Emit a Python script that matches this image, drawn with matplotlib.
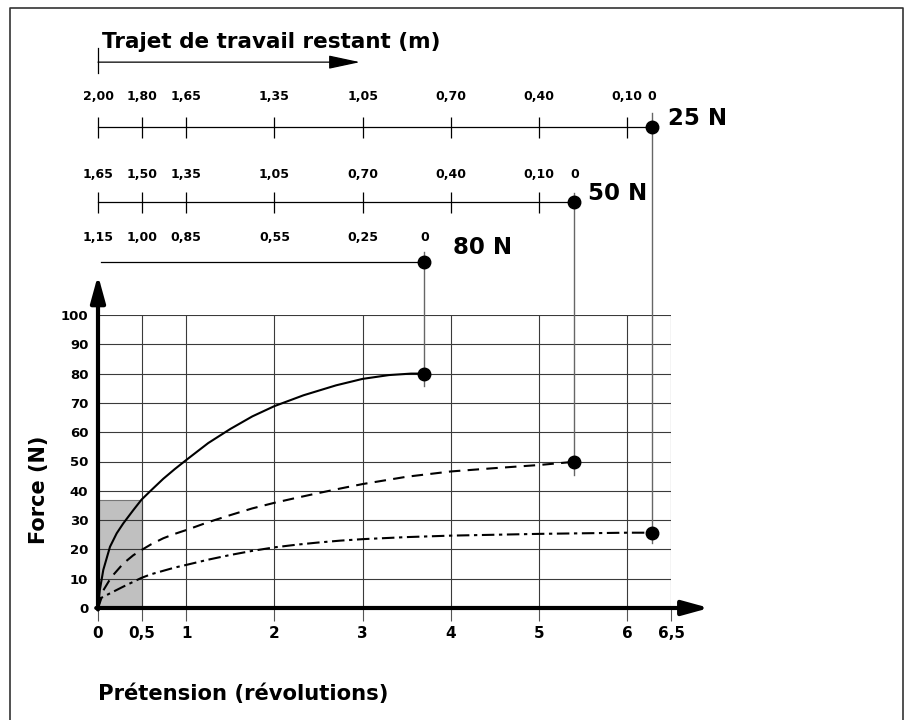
import matplotlib
matplotlib.use('Agg')
import matplotlib.pyplot as plt
from matplotlib.patches import Rectangle
from matplotlib.lines import Line2D

# curves: pretension (revolutions) -> force (N)
revs_80 = [0, 0.02, 0.06, 0.136, 0.212, 0.287, 0.4, 0.494, 0.6, 0.74, 0.87, 1.0, 1.25, 1.5, 1.75, 2.0,
           2.33, 2.7, 3.0, 3.3, 3.55, 3.70]
force_80 = [0, 6, 13, 20.9, 25.5, 28.9, 33.4, 37, 40.1, 44.1, 47.4, 50.5, 56.3, 61.1, 65.4, 68.9,
            72.6, 76.0, 78.2, 79.5, 80, 80]

revs_50 = [0, 0.04, 0.15, 0.287, 0.4, 0.494, 0.6, 0.74, 0.87, 1.0, 1.25, 1.5, 1.75, 2.0, 2.25, 2.48,
           2.75, 3.0, 3.5, 4.0, 4.48, 5.0, 5.40]
force_50 = [0, 5, 10.5, 15.2, 18.0, 19.8, 21.7, 23.8, 25.3, 26.6, 29.3, 31.7, 34.0, 35.9, 37.6, 39.1,
            40.8, 42.3, 44.8, 46.6, 47.7, 48.8, 49.9]

revs_25 = [0, 0.04, 0.136, 0.287, 0.494, 0.6, 0.74, 0.87, 1.0, 1.25, 1.5, 1.75, 2.0, 2.25, 2.48,
           2.75, 3.0, 3.5, 4.0, 5.0, 6.0, 6.28]
force_25 = [0, 3.5, 5.0, 7.3, 10.3, 11.5, 12.7, 13.8, 14.7, 16.5, 18.1, 19.5, 20.7, 21.6, 22.3,
            23.0, 23.5, 24.2, 24.7, 25.3, 25.7, 25.7]

# remaining working travel (m) scales above the chart
scale25_pos = [0, 0.5, 1, 2, 3, 4, 5, 6, 6.28]
scale25_lab = ["2,00", "1,80", "1,65", "1,35", "1,05", "0,70", "0,40", "0,10", "0"]
scale50_pos = [0, 0.5, 1, 2, 3, 4, 5, 5.40]
scale50_lab = ["1,65", "1,50", "1,35", "1,05", "0,70", "0,40", "0,10", "0"]
scale80_pos = [0, 0.5, 1, 2, 3, 3.70]
scale80_lab = ["1,15", "1,00", "0,85", "0,55", "0,25", "0"]

x_ticks = [0, 0.5, 1, 2, 3, 4, 5, 6, 6.5]
x_ticklabels = ["0", "0,5", "1", "2", "3", "4", "5", "6", "6,5"]
y_ticks = list(range(0, 101, 10))

shade_w = 0.5
shade_h = 37

W, H = 910, 720
fig = plt.figure(figsize=(W / 100, H / 100), dpi=100)
ax = fig.add_axes([98 / W, 112 / H, 573.3 / W, 293 / H])
ax.set_xlim(0, 6.5)
ax.set_ylim(0, 100)
for s in ax.spines.values():
    s.set_visible(False)

ax.set_xticks(x_ticks)
ax.set_xticklabels(x_ticklabels, fontweight='bold', fontsize=11)
ax.set_yticks(y_ticks)
ax.set_yticklabels([str(v) for v in y_ticks], fontweight='bold', fontsize=9.5)
ax.tick_params(axis='x', length=9, width=0.8, color='#555', pad=4)
ax.tick_params(axis='y', length=0, pad=7)
ax.set_axisbelow('line')
ax.grid(True, color='#3a3a3a', lw=0.8)

ax.add_patch(Rectangle((0, 0), shade_w, shade_h, facecolor='#c0c0c0', edgecolor='#777', lw=0.8, zorder=0.2))

lw = 1.5
ax.plot(revs_80, force_80, color='k', lw=lw, zorder=3)
ax.plot(revs_50, force_50, color='k', lw=lw, dashes=(5.5, 3.5), zorder=3)
ax.plot(revs_25, force_25, color='k', lw=lw, dashes=(6, 2.2, 1.6, 2.2), zorder=3)

# axes with arrow heads
arrow = dict(arrowstyle='-|>,head_length=0.8,head_width=0.22', lw=3, color='k',
             shrinkA=0, shrinkB=0, mutation_scale=20)
ax.annotate('', xy=(6.93, 0), xytext=(-0.02, 0), arrowprops=arrow, annotation_clip=False, zorder=6)
ax.annotate('', xy=(0, 113.6), xytext=(0, -0.5), arrowprops=arrow, annotation_clip=False, zorder=6)

# top scales
scales = [
    (scale25_pos, scale25_lab, 164.3, 174.5, True, 168.9, 22.3, force_25[-1], "25 N", 6.46, 167.2),
    (scale50_pos, scale50_lab, 138.7, 148.0, True, 141.6, 45.4, force_50[-1], "50 N", 5.56, 141.6),
    (scale80_pos, scale80_lab, 118.2, 126.5, False, 121.5, 75.8, force_80[-1], "80 N", 4.02, 122.9),
]
for pos, labs, yl, ylab, ticks, top, bot, fend, name, xn, yn in scales:
    x0 = pos[0] if ticks else 0.03
    ax.plot([x0, pos[-1]], [yl, yl], color='k', lw=0.9, clip_on=False)
    if ticks:
        ax.vlines(pos[:-1], yl - 3.9, yl + 3.4, color='k', lw=0.9, clip_on=False)
    for p, t in zip(pos, labs):
        ax.text(p, ylab, t, ha='center', va='center', fontsize=9, fontweight='bold', clip_on=False)
    ax.plot([pos[-1], pos[-1]], [top, bot], color='#666', lw=1, clip_on=False, zorder=2)
    ax.plot([pos[-1], pos[-1]], [yl, fend], 'o', ms=9, color='k', clip_on=False, zorder=5)
    ax.text(xn, yn, name, ha='left', va='center', fontsize=16.5, fontweight='bold')

# title with arrow
ax.text(0.05, 193.2, "Trajet de travail restant (m)", ha='left', va='center',
        fontsize=15.5, fontweight='bold')
ax.annotate('', xy=(2.97, 186.3), xytext=(0, 186.3),
            arrowprops=dict(arrowstyle='-|>,head_length=1.4,head_width=0.3', lw=0.9, color='k',
                            shrinkA=0, shrinkB=0, mutation_scale=14),
            annotation_clip=False)
ax.plot([0, 0], [182.6, 191.1], color='k', lw=0.9, clip_on=False)

ax.text(-0.669, 40.3, "Force (N)", rotation=90, ha='center', va='center', fontsize=15, fontweight='bold')
ax.text(0, -29.4, "Prétension (révolutions)", ha='left', va='center', fontsize=15.2, fontweight='bold')

# frame
fig.add_artist(Line2D([10 / W, 10 / W, 903 / W, 903 / W], [-0.01, 1 - 8 / H, 1 - 8 / H, -0.01],
                      color='#333', lw=1.2))

fig.savefig('out.png', dpi=100)
